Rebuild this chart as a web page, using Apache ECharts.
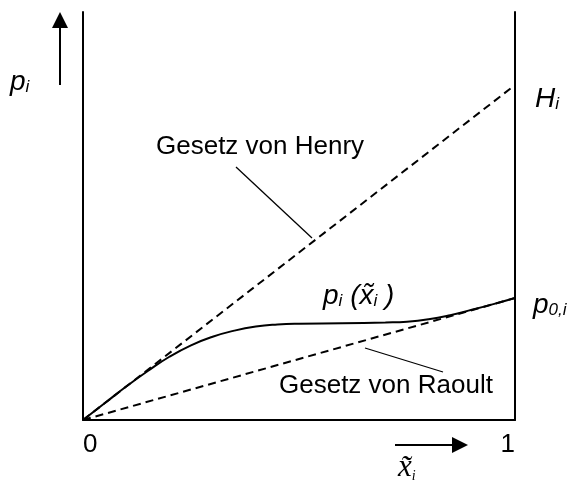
<!DOCTYPE html>
<html>
<head>
<meta charset="utf-8">
<script src="https://cdn.jsdelivr.net/npm/echarts@6/dist/echarts.min.js"></script>
<style>
  html, body { margin: 0; padding: 0; background: #fff; }
  #chart { width: 572px; height: 501px; }
</style>
</head>
<body>
<div id="chart"></div>
<script>
// Mole fraction of component i (0..1)
const xTicks = [0, 1];
const xTickLabels = ['0', '1'];

// Henry's law: straight line from the origin to H_i
const henryX = [0, 1];
const henryY = [0, 0.821];

// Raoult's law: straight line from the origin to p_0,i
const raoultX = [0, 1];
const raoultY = [0, 0.299];

// Real partial pressure curve p_i(x_i)
const curveX = [0, 0.05, 0.10, 0.15, 0.20, 0.25, 0.30, 0.35, 0.40, 0.45, 0.50, 0.60, 0.70, 0.75, 0.80, 0.85, 0.90, 0.95, 1.00];
const curveY = [0, 0.041, 0.082, 0.120, 0.155, 0.183, 0.204, 0.219, 0.229, 0.234, 0.236, 0.237, 0.239, 0.241, 0.247, 0.257, 0.270, 0.284, 0.299];

const FONT = '"Liberation Sans", Arial, sans-serif';
const SERIF = '"Liberation Serif", "Times New Roman", serif';

const zip = (xs, ys) => xs.map((x, k) => [x, ys[k]]);

const subRich = {
  m: { fontSize: 28, fontStyle: 'italic', fontFamily: FONT, color: '#000', lineHeight: 32, verticalAlign: 'bottom' },
  s: { fontSize: 17, fontStyle: 'italic', fontFamily: FONT, color: '#000', lineHeight: 19, verticalAlign: 'bottom' }
};

const chart = echarts.init(document.getElementById('chart'));

chart.setOption({
  animation: false,
  backgroundColor: '#fff',
  grid: { left: 83, right: 57, top: 12, bottom: 81 },
  xAxis: {
    type: 'value', min: 0, max: 1, interval: 1,
    axisLine: { show: true, lineStyle: { color: '#000', width: 2 } },
    axisTick: { show: false },
    splitLine: { show: false },
    axisLabel: {
      show: true, color: '#000', fontSize: 26, fontFamily: FONT, margin: 12,
      alignMinLabel: 'left', alignMaxLabel: 'right',
      formatter: v => xTickLabels[xTicks.indexOf(v)]
    }
  },
  yAxis: [
    {
      type: 'value', min: 0, max: 1, position: 'left',
      axisLine: { show: true, lineStyle: { color: '#000', width: 2 } },
      axisTick: { show: false }, axisLabel: { show: false }, splitLine: { show: false }
    },
    {
      type: 'value', min: 0, max: 1, position: 'right',
      axisLine: { show: true, lineStyle: { color: '#000', width: 2 } },
      axisTick: { show: false }, axisLabel: { show: false }, splitLine: { show: false }
    }
  ],
  series: [
    {
      name: 'Gesetz von Henry', type: 'line', data: zip(henryX, henryY),
      symbol: 'none', lineStyle: { color: '#000', width: 2, type: [8, 5] },
      endLabel: { show: true, distance: 20, offset: [0, 12], formatter: '{m|H}{s|i}', rich: subRich }
    },
    {
      name: 'Gesetz von Raoult', type: 'line', data: zip(raoultX, raoultY),
      symbol: 'none', lineStyle: { color: '#000', width: 2, type: [8, 5] },
      endLabel: { show: true, distance: 18, offset: [0, 5], formatter: '{m|p}{s|0,i}', rich: subRich }
    },
    {
      name: 'p_i', type: 'line', data: zip(curveX, curveY),
      smooth: 0.5, symbol: 'none', lineStyle: { color: '#000', width: 2 }
    }
  ],
  graphic: [
    // vertical axis caption with arrow
    { type: 'line', shape: { x1: 60, y1: 85, x2: 60, y2: 27 }, style: { stroke: '#000', lineWidth: 2 } },
    { type: 'polygon', shape: { points: [[52, 28], [68, 28], [60, 12]] }, style: { fill: '#000' } },
    { type: 'text', left: 10, top: 68, style: { text: '{m|p}{s|i}', rich: subRich } },
    // horizontal axis caption with arrow
    { type: 'line', shape: { x1: 395, y1: 445, x2: 453, y2: 445 }, style: { stroke: '#000', lineWidth: 2 } },
    { type: 'polygon', shape: { points: [[452, 437], [452, 453], [468, 445]] }, style: { fill: '#000' } },
    {
      type: 'text', left: 398, top: 452,
      style: {
        text: '{x|x̃}{s|i}',
        rich: {
          x: { fontSize: 31, fontStyle: 'italic', fontFamily: SERIF, color: '#000', lineHeight: 34, verticalAlign: 'bottom' },
          s: { fontSize: 14, fontStyle: 'italic', fontFamily: SERIF, color: '#000', lineHeight: 15, verticalAlign: 'bottom' }
        }
      }
    },
    // curve caption
    {
      type: 'text', left: 323, top: 282,
      style: {
        text: '{m|p}{s|i}{m| (}{m|x̃}{s|i}{m| )}',
        rich: subRich
      }
    },
    // Henry caption and leader
    { type: 'text', left: 156, top: 134, style: { text: 'Gesetz von Henry', fontSize: 26, fontFamily: FONT, fill: '#000' } },
    { type: 'line', shape: { x1: 236, y1: 167, x2: 312, y2: 238 }, style: { stroke: '#000', lineWidth: 1.3 } },
    // Raoult caption and leader
    { type: 'text', left: 279, top: 373, style: { text: 'Gesetz von Raoult', fontSize: 26, fontFamily: FONT, fill: '#000' } },
    { type: 'line', shape: { x1: 365, y1: 348, x2: 443, y2: 372 }, style: { stroke: '#000', lineWidth: 1.3 } }
  ]
});
</script>
</body>
</html>
